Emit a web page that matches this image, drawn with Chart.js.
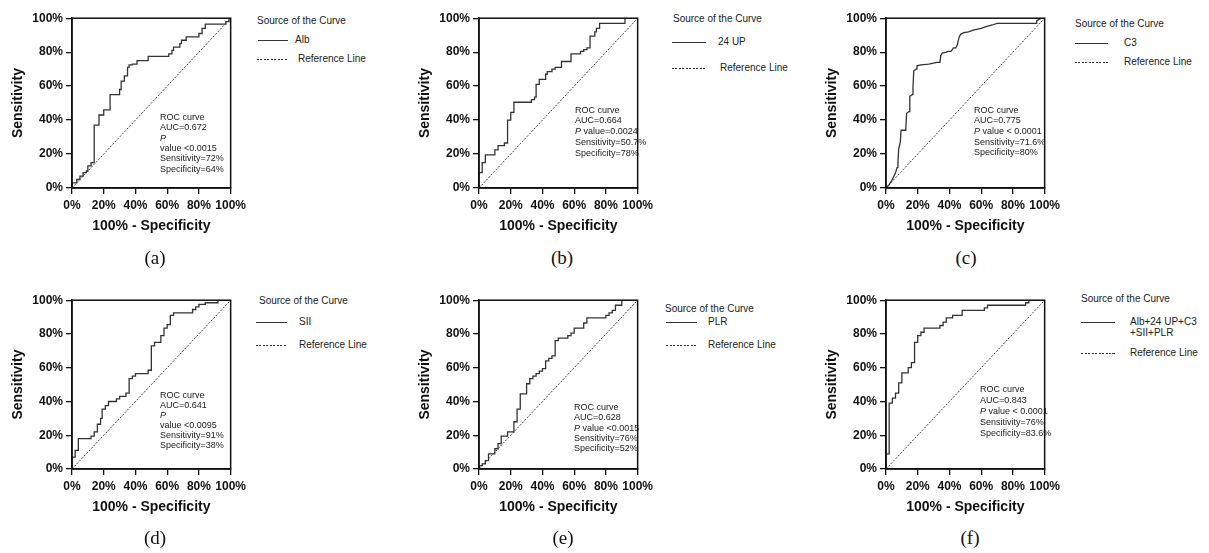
<!DOCTYPE html>
<html>
<head>
<meta charset="utf-8">
<script src="https://cdn.jsdelivr.net/npm/chart.js@4.4.1/dist/chart.umd.min.js"></script>
<style>
  body { margin: 0; background: #fff; width: 1209px; height: 553px; position: relative; overflow: hidden;
         font-family: "Liberation Sans", Arial, sans-serif; color: #222; }
  canvas { position: absolute; }
  .t { position: absolute; white-space: nowrap; }
  .leg { font-size: 10px; line-height: 12px; }
  .ann { font-size: 9px; }
  .cap { position: absolute; font-family: "Liberation Serif", "Times New Roman", serif; font-size: 19px;
         line-height: 22px; transform: translateX(-50%); color: #111; }
  .solid { position: absolute; height: 0; border-top: 1.3px solid #333; }
  .dash { position: absolute; height: 1px; background: repeating-linear-gradient(to right, #333 0 2px, transparent 2px 3.5px); }
</style>
</head>
<body>
<script>
const percentTicks = ['0%', '20%', '40%', '60%', '80%', '100%'];
const referenceX = [0, 100];
const referenceY = [0, 100];

// Alb: staircase corners (100% - specificity, sensitivity), in %
const albFpr = [0, 0, 3, 5, 7, 9, 10, 12, 14, 17, 20, 24, 30, 31, 33, 35, 36, 38, 41, 48, 61, 63, 64, 68, 69, 72, 80, 82, 84, 97, 99, 100];
const albTpr = [0, 3, 5, 7, 9, 10, 13, 15, 37, 43, 46, 55, 58, 63, 66, 71, 72.5, 73, 75, 77.5, 79, 81, 83, 85, 87, 89, 91, 94, 96.5, 98, 100, 100];

// 24 UP
const upFpr = [0, 0, 2, 4, 10, 12, 16, 18, 20, 22, 33, 35, 36, 38, 42, 43, 46, 48, 52, 58, 64, 66, 68, 70, 73, 74, 76, 92, 100];
const upTpr = [0, 9, 15, 19.5, 22.5, 25, 26.5, 40, 44.5, 50.5, 52, 53.5, 61, 64, 67, 68.5, 70, 71, 74.5, 79, 80.5, 81.5, 82.5, 89.5, 92, 94, 97, 100, 100];

// C3 (vertices joined by straight segments)
const c3Fpr = [0, 2, 4, 6, 7, 7.5, 8, 9, 9.5, 12, 12.5, 13, 14.5, 15, 16.5, 17, 17.5, 19, 19.5, 22, 27, 32, 34, 34.5, 35.5, 38, 39, 41, 42.5, 44, 45, 46, 47, 49, 52, 55, 60, 63, 67, 70, 95, 95, 97, 98, 100];
const c3Tpr = [0, 2, 5, 9, 12, 15, 23, 27, 34, 34, 35.5, 44, 45, 54, 55, 59, 69, 70, 72, 72.5, 73, 74, 74, 78, 79.5, 80, 80.5, 80.5, 82.5, 82.5, 84.5, 88.5, 90.5, 91.5, 92, 93, 94, 95, 96, 97, 97, 98.5, 99.5, 100, 100];

// SII
const siiFpr = [0, 0, 2, 4, 12, 14, 16, 18, 19, 21, 23, 28, 30, 34, 36, 38, 40, 48, 50, 52, 56, 58, 60, 62, 64, 76, 78, 80, 84, 92, 100];
const siiTpr = [0, 7, 11, 18, 19.5, 22, 26.5, 30, 35.5, 37.5, 40, 41.5, 43, 45, 53.5, 55, 56.5, 58.5, 73, 75, 79, 83.5, 85.5, 91, 92.5, 94.5, 96, 97.5, 98.5, 100, 100];

// PLR
const plrFpr = [0, 0, 2, 4, 6, 10, 12, 14, 18, 22, 24, 26, 30, 32, 34, 36, 38, 40, 42, 44, 46, 48, 50, 56, 58, 60, 66, 68, 80, 82, 84, 86, 90, 100];
const plrTpr = [0, 2, 3, 5, 9, 12, 15, 19.5, 22, 28, 35.5, 44.5, 50.5, 53.5, 55, 56.5, 58, 59.5, 64, 65.5, 67, 76, 77.5, 79, 80.5, 83.5, 86.5, 89.5, 91, 92.5, 94, 97, 100, 100];

// Alb+24 UP+C3+SII+PLR
const combFpr = [0, 0, 2, 4, 6, 8, 10, 14, 16, 18, 20, 22, 24, 34, 36, 38, 42, 48, 62, 64, 88, 90, 100];
const combTpr = [0, 9, 39, 42, 45, 51, 57, 60, 63, 75, 79, 81, 83.5, 85, 87, 89.5, 91, 94, 95.5, 97, 98.5, 100, 100];

const FONT = '"Liberation Sans", Arial, sans-serif';
const AXIS_W = 72, PAD_T = 8, PAD_R = 8, AXIS_H = 48;

const panels = [
  { cap: '(a)', names: ['Alb'], fpr: albFpr, tpr: albTpr, stepped: true,
    plot: [72, 16, 170, 172], capPos: [155, 258],
    leg: { head: [257, 21], line: [258, 288, 40], text: 295, dash: [257, 287, 59], refText: 298 },
    ann: { x: 160, y: 117, lh: 10.4, lines: ['ROC curve', 'AUC=0.672', '<i>P</i>', 'value &lt;0.0015', 'Sensitivity=72%', 'Specificity=64%'] } },
  { cap: '(b)', names: ['24 UP'], fpr: upFpr, tpr: upTpr, stepped: true,
    plot: [479, 16, 170, 172], capPos: [562, 258],
    leg: { head: [673, 19], line: [672, 706, 42], text: 718, dash: [672, 706, 68], refText: 720 },
    ann: { x: 575, y: 110, lh: 10.8, lines: ['ROC curve', 'AUC=0.664', '<i>P</i> value=0.0024', 'Sensitivity=50.7%', 'Specificity=78%'] } },
  { cap: '(c)', names: ['C3'], fpr: c3Fpr, tpr: c3Tpr, stepped: false,
    plot: [886, 16, 170, 172], capPos: [966, 258],
    leg: { head: [1075, 24], line: [1075, 1108, 43], text: 1124, dash: [1075, 1108, 62], refText: 1124 },
    ann: { x: 974, y: 110, lh: 10.7, lines: ['ROC curve', 'AUC=0.775', '<i>P</i> value &lt; 0.0001', 'Sensitivity=71.6%', 'Specificity=80%'] } },
  { cap: '(d)', names: ['SII'], fpr: siiFpr, tpr: siiTpr, stepped: true,
    plot: [72, 298, 170, 171], capPos: [155, 538],
    leg: { head: [259, 301], line: [256, 287, 322], text: 299, dash: [256, 287, 345], refText: 299 },
    ann: { x: 160, y: 395, lh: 10.1, lines: ['ROC curve', 'AUC=0.641', '<i>P</i>', 'value &lt;0.0095', 'Sensitivity=91%', 'Specificity=38%'] } },
  { cap: '(e)', names: ['PLR'], fpr: plrFpr, tpr: plrTpr, stepped: true,
    plot: [479, 298, 170, 171], capPos: [563, 538],
    leg: { head: [665, 309], line: [666, 697, 322], text: 708, dash: [666, 697, 345], refText: 708 },
    ann: { x: 574, y: 407, lh: 10.4, lines: ['ROC curve', 'AUC=0.628', '<i>P</i> value &lt;0.0015', 'Sensitivity=76%', 'Specificity=52%'] } },
  { cap: '(f)', names: ['Alb+24 UP+C3', '+SII+PLR'], fpr: combFpr, tpr: combTpr, stepped: true,
    plot: [886, 298, 170, 171], capPos: [970, 538],
    leg: { head: [1081, 299], line: [1081, 1115, 322], text: 1130, dash: [1081, 1115, 353], refText: 1130 },
    ann: { x: 980, y: 389, lh: 11, lines: ['ROC curve', 'AUC=0.843', '<i>P</i> value &lt; 0.0001', 'Sensitivity=76%', 'Specificity=83.6%'] } }
];

// Closed box around the plotting area
const frame = {
  id: 'frame',
  afterDatasetsDraw(chart) {
    const { ctx, chartArea: a } = chart;
    ctx.save();
    ctx.strokeStyle = '#111';
    ctx.lineWidth = 1.5;
    ctx.strokeRect(a.left, a.top, a.right - a.left, a.bottom - a.top);
    ctx.restore();
  }
};

function addText(cls, html, x, cy, lh) {
  const el = document.createElement('div');
  el.className = 't ' + cls;
  el.innerHTML = html;
  el.style.left = x + 'px';
  el.style.top = (cy - lh / 2) + 'px';
  el.style.lineHeight = lh + 'px';
  document.body.appendChild(el);
  return el;
}

function axis(titleText, isX) {
  return {
    type: 'linear', min: 0, max: 100,
    afterFit(s) { if (isX) s.height = AXIS_H; else s.width = AXIS_W; },
    ticks: {
      stepSize: 20, autoSkip: false, maxRotation: 0, padding: isX ? 4 : 3, color: '#111',
      font: { family: FONT, size: 12, weight: 'bold' },
      callback: (v, i) => percentTicks[i]
    },
    grid: { drawOnChartArea: false, drawTicks: true, tickLength: 6, color: '#111', lineWidth: 1.3 },
    border: { display: true, color: '#111', width: 1.5 },
    title: {
      display: true, text: titleText, color: '#111',
      font: { family: FONT, size: 14, weight: 'bold' },
      padding: isX ? { top: 0, bottom: 1 } : { top: 10, bottom: 0 }
    }
  };
}

panels.forEach(p => {
  const [px, py, pw, ph] = p.plot;
  const cv = document.createElement('canvas');
  cv.width = AXIS_W + pw + PAD_R;
  cv.height = PAD_T + ph + AXIS_H;
  cv.style.left = (px - AXIS_W) + 'px';
  cv.style.top = (py - PAD_T) + 'px';
  document.body.appendChild(cv);

  new Chart(cv, {
    type: 'line',
    data: {
      datasets: [
        { data: p.fpr.map((v, i) => ({ x: v, y: p.tpr[i] })), stepped: p.stepped ? 'before' : false,
          borderColor: '#333', borderWidth: 1.3, pointRadius: 0, fill: false, tension: 0 },
        { data: referenceX.map((v, i) => ({ x: v, y: referenceY[i] })),
          borderColor: '#444', borderWidth: 1, borderDash: [2, 1.5], pointRadius: 0, fill: false }
      ]
    },
    options: {
      responsive: false, animation: false, events: [],
      layout: { padding: { top: PAD_T, right: PAD_R, left: 0, bottom: 0 } },
      plugins: { legend: { display: false }, tooltip: { enabled: false } },
      scales: { x: axis('100% - Specificity', true), y: axis('Sensitivity', false) }
    },
    plugins: [frame]
  });

  // legend block
  const L = p.leg;
  addText('leg', 'Source of the Curve', L.head[0], L.head[1], 12);
  const s = document.createElement('div');
  s.className = 'solid';
  s.style.left = L.line[0] + 'px'; s.style.width = (L.line[1] - L.line[0]) + 'px'; s.style.top = L.line[2] + 'px';
  document.body.appendChild(s);
  p.names.forEach((n, i) => addText('leg', n, L.text, L.line[2] + i * 11, 12));
  const d = document.createElement('div');
  d.className = 'dash';
  d.style.left = L.dash[0] + 'px'; d.style.width = (L.dash[1] - L.dash[0]) + 'px'; d.style.top = L.dash[2] + 'px';
  document.body.appendChild(d);
  addText('leg', 'Reference Line', L.refText, L.dash[2], 12);

  // statistics note inside the plot
  p.ann.lines.forEach((ln, i) => addText('ann', ln, p.ann.x, p.ann.y + i * p.ann.lh, p.ann.lh));

  // panel caption
  const c = document.createElement('div');
  c.className = 'cap';
  c.textContent = p.cap;
  c.style.left = p.capPos[0] + 'px';
  c.style.top = (p.capPos[1] - 11) + 'px';
  document.body.appendChild(c);
});
</script>
</body>
</html>
